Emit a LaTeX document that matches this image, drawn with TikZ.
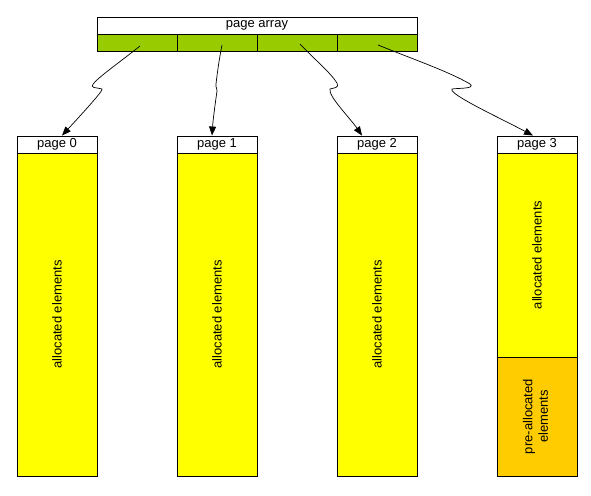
\documentclass[tikz,border=0pt]{standalone}
\usepackage{fontspec}
\setmainfont{Liberation Sans}
\usetikzlibrary{arrows.meta}
\definecolor{cellgreen}{HTML}{99CC00}
\definecolor{pageyellow}{HTML}{FFFF00}
\definecolor{preorange}{HTML}{FFCC00}
\tikzset{
  box/.style={draw=black, line width=0.9pt, inner sep=0pt, font=\fontsize{13}{15.5}\selectfont},
  hdr/.style={box, fill=white, minimum width=80pt, minimum height=17pt},
  cell/.style={box, fill=cellgreen, minimum width=80pt, minimum height=17pt},
  body/.style={box, fill=pageyellow, minimum width=80pt},
  link/.style={draw=black, line width=0.7pt, -{Triangle[length=9pt,width=7pt]}},
}
\begin{document}
\begin{tikzpicture}[x=1pt,y=-1pt]
\useasboundingbox[fill=white] (0,0) rectangle (591,495);
% page array
\node[box, fill=white, minimum width=320pt, minimum height=17pt] (arr) at (257,25.5) {page array};
\node[cell] (c0) at (137,42.5) {};
\node[cell] (c1) at (217,42.5) {};
\node[cell] (c2) at (297,42.5) {};
\node[cell] (c3) at (377,42.5) {};
% pages
\node[hdr] (p0) at (57,144.5) {page 0};
\node[hdr] (p1) at (217,144.5) {page 1};
\node[hdr] (p2) at (377,144.5) {page 2};
\node[hdr] (p3) at (537,144.5) {page 3};
\node[body, minimum height=323pt] (b0) at (57,314.5) {\rotatebox{90}{allocated elements}};
\node[body, minimum height=323pt] (b1) at (217,314.5) {\rotatebox{90}{allocated elements}};
\node[body, minimum height=323pt] (b2) at (377,314.5) {\rotatebox{90}{allocated elements}};
\node[body, minimum height=204pt] (b3) at (537,255) {\rotatebox{90}{allocated elements}};
\node[body, fill=preorange, minimum height=119pt] (b3p) at (537,416.5) {\rotatebox{90}{\begin{tabular}{@{}c@{}}pre-allocated\\elements\end{tabular}}};
% connectors
\draw[link] ([shift={(3,3.5)}]c0.center) .. controls (120,62) and (100,76) .. (94,83)
  .. controls (89,89) and (96,87) .. (102,89)
  .. controls (104,90) and (80,116) .. ([xshift=5pt]p0.north);
\draw[link] ([shift={(5,2.5)}]c1.center) .. controls (219,60) and (217,75) .. (216,84)
  .. controls (215,88) and (218,88) .. (217,91)
  .. controls (215,105) and (213,120) .. ([xshift=-5pt]p1.north);
\draw[link] ([shift={(3,1.5)}]c2.center) .. controls (315,60) and (330,72) .. (337,83)
  .. controls (340,88) and (333,88) .. (330,89)
  .. controls (328,96) and (350,118) .. ([xshift=-15pt]p2.north);
\draw[link] ([shift={(1,2.5)}]c3.center) .. controls (410,58) and (450,72) .. (470,84)
  .. controls (476,89) and (458,88) .. (452,89)
  .. controls (448,94) and (500,118) .. ([xshift=-4pt]p3.north);
\end{tikzpicture}
\end{document}
